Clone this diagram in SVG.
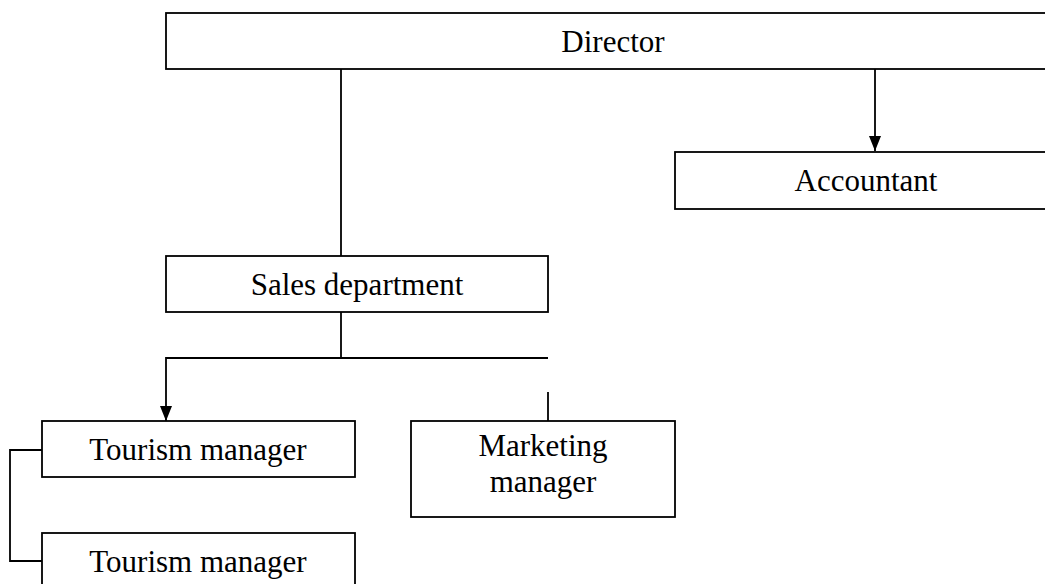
<svg xmlns="http://www.w3.org/2000/svg" width="1045" height="584" viewBox="0 0 1045 584">
<style>
.box{fill:#fff;stroke:#000;stroke-width:1.8}
.lbl{font-family:"Liberation Serif","Times New Roman",serif;font-size:31px;fill:#000;text-anchor:middle}
.ln{fill:none;stroke:#000;stroke-width:1.8}
</style>
<defs>
<marker id="arr" viewBox="0 0 15 12" refX="15" refY="6" markerWidth="15" markerHeight="12" markerUnits="userSpaceOnUse" orient="auto">
<path d="M0,0 L15,6 L0,12 Z" fill="#000"/>
</marker>
</defs>
<rect width="1045" height="584" fill="#fff"/>
<g id="connectors">
<path class="ln" d="M341,69 V256"/>
<path class="ln" d="M875,69 V151" marker-end="url(#arr)"/>
<path class="ln" d="M341,312 V358"/>
<path class="ln" d="M548,358 H166 V421" marker-end="url(#arr)"/>
<path class="ln" d="M548,392 V421"/>
<path class="ln" d="M42,450 H10 V561 H42"/>
</g>
<g id="director">
<rect class="box" x="166" y="13" width="900" height="56"/>
<text class="lbl" x="613" y="52">Director</text>
</g>
<g id="accountant">
<rect class="box" x="675" y="152" width="400" height="57"/>
<text class="lbl" x="866" y="191">Accountant</text>
</g>
<g id="sales">
<rect class="box" x="166" y="256" width="382" height="56"/>
<text class="lbl" x="357" y="295">Sales department</text>
</g>
<g id="tourism1">
<rect class="box" x="42" y="421" width="313" height="56"/>
<text class="lbl" x="198" y="460">Tourism manager</text>
</g>
<g id="marketing">
<rect class="box" x="411" y="421" width="264" height="96"/>
<text class="lbl" x="543" y="456">Marketing</text>
<text class="lbl" x="543" y="492">manager</text>
</g>
<g id="tourism2">
<rect class="box" x="42" y="533" width="313" height="60"/>
<text class="lbl" x="198" y="572">Tourism manager</text>
</g>
</svg>
